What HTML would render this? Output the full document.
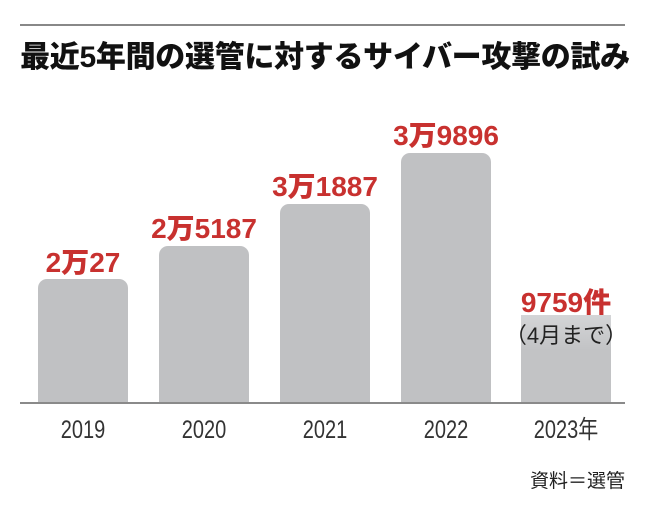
<!DOCTYPE html>
<html><head><meta charset="utf-8"><style>
body{margin:0;width:650px;height:506px;background:#fff;position:relative;overflow:hidden;font-family:"Liberation Sans","Noto Sans CJK JP",sans-serif}
.a{position:absolute}
.rule{left:20px;width:605px;top:24px;height:2px;background:#888}
.title{left:0;width:650px;top:38px;text-align:center;font-size:30px;line-height:40px;font-weight:900;color:#111;letter-spacing:-0.3px}
.bar{position:absolute;background:#c0c1c3;border-radius:9px 9px 0 0;width:90px}
.lab{position:absolute;width:140px;text-align:center;color:#c8312f;font-weight:900;font-size:28px;line-height:32px}
.yr{position:absolute;width:140px;text-align:center;color:#333;font-size:25px;line-height:28px;top:416px;transform:scaleX(0.8)}
.axis{left:20px;width:605px;top:402px;height:2px;background:#8a8a8a}
</style></head><body>
<div class="a rule"></div>
<div class="a title">最近5年間の選管に対するサイバー攻撃の試み</div>
<div class="bar" style="left:38px;top:279px;height:124px"></div>
<div class="bar" style="left:159px;top:246px;height:157px"></div>
<div class="bar" style="left:280px;top:204px;height:199px"></div>
<div class="bar" style="left:401px;top:153px;height:250px"></div>
<div class="bar" style="left:521px;top:315px;height:88px;border-radius:0;background:linear-gradient(#d4d5d7,#c2c3c5 40%,#c2c3c5)"></div>
<div class="a axis"></div>
<div class="lab" style="left:13px;top:247px">2万27</div>
<div class="lab" style="left:134px;top:213px">2万5187</div>
<div class="lab" style="left:255px;top:171px">3万1887</div>
<div class="lab" style="left:376px;top:120px">3万9896</div>
<div class="lab" style="left:496px;top:287px">9759件</div>
<div class="a" style="left:491px;width:150px;text-align:center;top:322px;font-size:22px;line-height:28px;color:#222">（4月まで）</div>
<div class="yr" style="left:13px">2019</div>
<div class="yr" style="left:134px">2020</div>
<div class="yr" style="left:255px">2021</div>
<div class="yr" style="left:376px">2022</div>
<div class="yr" style="left:496px">2023年</div>
<div class="a" style="left:530px;top:470px;font-size:19px;line-height:24px;color:#222">資料＝選管</div>
</body></html>
